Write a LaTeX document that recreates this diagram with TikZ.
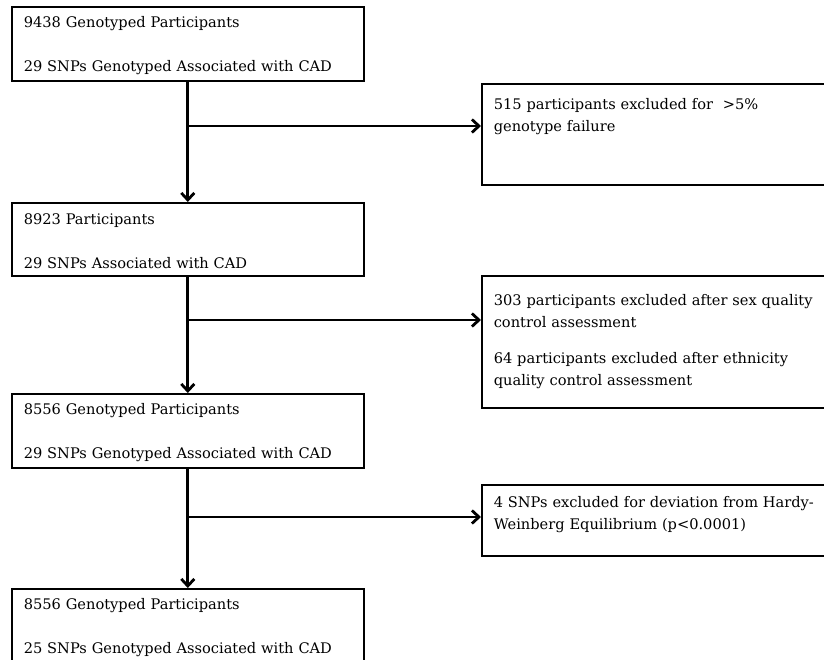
\documentclass[tikz,border=0pt]{standalone}
\usepackage{fontspec}
\setmainfont{DejaVu Serif}
\usetikzlibrary{positioning,arrows.meta}

\begin{document}
\begin{tikzpicture}[
    x=1pt, y=-1pt,
    box/.style={draw, line width=1.6pt, anchor=north west,
                inner xsep=12pt, inner ysep=0pt, align=left,
                font=\fontsize{14.6}{22}\selectfont},
    stage/.style={box, text width=328pt, minimum height=74pt,
                  text height=15pt},
    excl/.style={box, text width=400pt},
    arr/.style={-{Straight Barb[length=7pt,width=13pt]}, line width=2.8pt},
]
\clip (0,0) rectangle (824,660);

% main stages
\node[stage] (s1) at (11,6)
    {9438 Genotyped Participants\\[22pt]29 SNPs Genotyped Associated with CAD};
\node[stage, minimum height=73pt] (s2) at (11,202)
    {8923 Participants\\[22pt]29 SNPs Associated with CAD};
\node[stage] (s3) at (11,393)
    {8556 Genotyped Participants\\[22pt]29 SNPs Genotyped Associated with CAD};
\node[stage] (s4) at (11,588)
    {8556 Genotyped Participants\\[22pt]25 SNPs Genotyped Associated with CAD};

% exclusions
\node[excl, inner ysep=15pt, text depth=60pt] (r1) at (481,83)
    {515 participants excluded for~~>5\%\\genotype failure};
\node[excl, minimum height=132pt] (r2) at (481,275)
    {303 participants excluded after sex quality\\control assessment\\[14pt]%
     64 participants excluded after ethnicity\\quality control assessment};
\node[excl, minimum height=71pt, text depth=36pt] (r3) at (481,484)
    {4 SNPs excluded for deviation from Hardy-\\Weinberg Equilibrium (p<0.0001)};

% flow
\coordinate (j1) at (s1.south |- 0,126);
\coordinate (j2) at (s2.south |- 0,320);
\coordinate (j3) at (s3.south |- 0,517);
\draw[arr] (s1.south) -- (s2.north);
\draw[arr] (s2.south) -- (s3.north);
\draw[arr] (s3.south) -- (s4.north);
\draw[arr] (j1) -- (j1 -| r1.west);
\draw[arr] (j2) -- (j2 -| r2.west);
\draw[arr] (j3) -- (j3 -| r3.west);
\end{tikzpicture}
\end{document}
